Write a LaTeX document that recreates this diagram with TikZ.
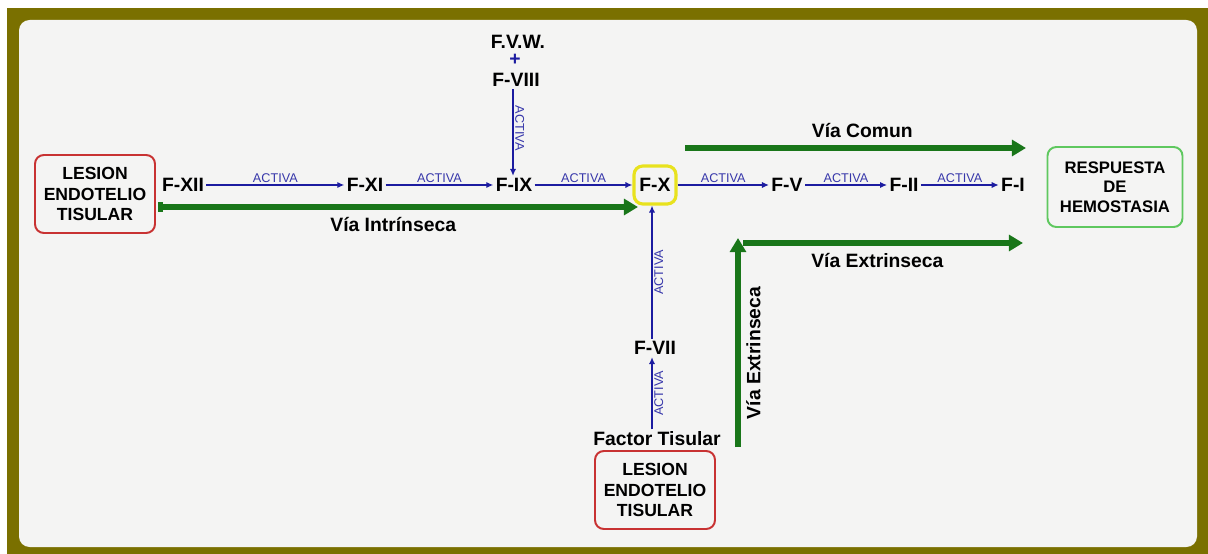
\documentclass[tikz,border=0pt]{standalone}
\usepackage{fontspec}
\setmainfont{Liberation Sans}
\usepackage{xcolor}
\usetikzlibrary{arrows.meta,positioning}

\definecolor{framecol}{RGB}{122,112,0}
\definecolor{panelcol}{RGB}{244,244,243}
\definecolor{actblue}{RGB}{28,28,160}
\definecolor{actlblue}{RGB}{55,55,170}
\definecolor{viagreen}{RGB}{25,118,25}
\definecolor{lesionred}{RGB}{200,50,50}
\definecolor{respgreen}{RGB}{95,200,95}
\definecolor{fxyellow}{RGB}{232,226,30}

\begin{document}
\begin{tikzpicture}[
  x=0.02cm,y=-0.02cm,
  lesion/.style={draw=lesionred,rounded corners=5pt,line width=1.1pt,align=center,font=\bfseries\fontsize{10}{11.5}\selectfont,minimum width=2.4cm,minimum height=1.56cm,inner sep=2pt},
  resp/.style={draw=respgreen,rounded corners=5pt,line width=1.1pt,align=center,font=\bfseries\fontsize{9.5}{11}\selectfont,minimum width=2.7cm,minimum height=1.6cm,inner sep=2pt},
  fac/.style={font=\bfseries\fontsize{11}{12}\selectfont,inner sep=1.2pt},
  act/.style={-{Latex[length=4pt,width=3.6pt]},actblue,line width=0.9pt},
  actlbl/.style={font=\fontsize{7.2}{8}\selectfont,text=actlblue,inner sep=0.8pt},
  via/.style={-{Triangle[length=8pt,width=9pt]},viagreen,line width=3.2pt},
  vialbl/.style={font=\bfseries\fontsize{11}{12}\selectfont,text=black,inner sep=1pt}
]
  % frame
  \useasboundingbox (0,0) rectangle (1208,554);
  \fill[white] (0,0) rectangle (1208,554);
  \fill[framecol] (7,8) rectangle (1208,554);
  \fill[panelcol,rounded corners=6pt] (19,20) rectangle (1197,547);

  % boxes
  \node[lesion] (les1) at (95,194) {LESION\\ENDOTELIO\\TISULAR};
  \node[lesion] (les2) at (655,490) {LESION\\ENDOTELIO\\TISULAR};
  \node[resp] (hemo) at (1115,187) {RESPUESTA\\DE\\HEMOSTASIA};

  % factors
  \node[fac] (f12) at (183,185) {F-XII};
  \node[fac] (f11) at (365,185) {F-XI};
  \node[fac] (f9) at (514,185) {F-IX};
  \node[fac,draw=fxyellow,line width=1.8pt,rounded corners=5pt,minimum width=0.84cm,minimum height=0.76cm] (f10) at (655,185) {F-X};
  \node[fac] (f5) at (787,185) {F-V};
  \node[fac] (f2) at (904,185) {F-II};
  \node[fac] (f1) at (1013,185) {F-I};
  \node[fac] (fvw) at (518,42) {F.V.W.};
  \node[fac,text=actblue] (plus) at (515,60) {+};
  \node[fac] (f8) at (516,80) {F-VIII};
  \node[fac] (f7) at (655,348) {F-VII};
  \node[fac] (ftis) at (657,439) {Factor Tisular};

  % activation chain
  \draw[act] (f12) -- node[actlbl,above]{ACTIVA} (f11);
  \draw[act] (f11) -- node[actlbl,above]{ACTIVA} (f9);
  \draw[act] (f9) -- node[actlbl,above]{ACTIVA} (f10);
  \draw[act] (f10) -- node[actlbl,above]{ACTIVA} (f5);
  \draw[act] (f5) -- node[actlbl,above]{ACTIVA} (f2);
  \draw[act] (f2) -- node[actlbl,above]{ACTIVA} (f1);
  \draw[act] (f8.south -| 513,0) -- node[actlbl,rotate=-90,anchor=south,pos=0.45]{ACTIVA} (f9.north -| 513,0);
  \draw[act] (f7.north -| 652,0) -- node[actlbl,rotate=90,anchor=north,pos=0.5]{ACTIVA} (f10.south -| 652,0);
  \draw[act] (ftis.north -| 652,0) -- node[actlbl,rotate=90,anchor=north,pos=0.5]{ACTIVA} (f7.south -| 652,0);

  % pathways
  \coordinate (vi-s) at (158,207);
  \coordinate (vi-e) at (638,207);
  \coordinate (vc-s) at (685,148);
  \coordinate (vc-e) at (1026,148);
  \coordinate (ve-b) at (738,447);
  \coordinate (ve-t) at (738,238);
  \coordinate (ve-s) at (743,243);
  \coordinate (ve-e) at (1023,243);
  \draw[via,{Square[length=3pt,width=5.5pt]}-{Triangle[length=8pt,width=9pt]}] (vi-s) -- node[vialbl,below=3pt,pos=0.49]{Vía Intrínseca} (vi-e);
  \draw[via] (vc-s) -- node[vialbl,above=3pt,pos=0.52]{Vía Comun} (vc-e);
  \draw[via] (ve-b) -- node[vialbl,rotate=90,anchor=north,inner sep=3pt,pos=0.45]{Vía Extrinseca} (ve-t);
  \draw[via] (ve-s) -- node[vialbl,below=3pt,pos=0.48]{Vía Extrinseca} (ve-e);
\end{tikzpicture}
\end{document}
